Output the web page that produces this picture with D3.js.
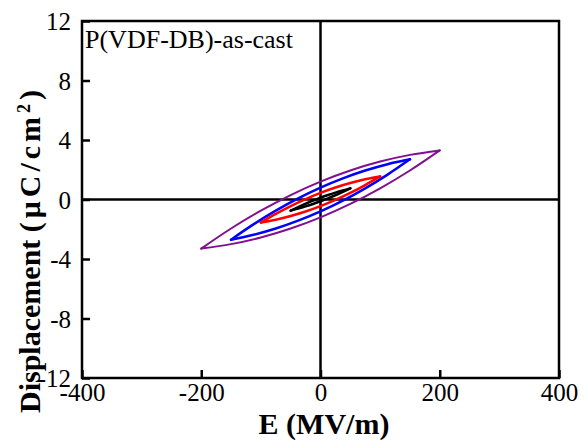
<!DOCTYPE html>
<html>
<head>
<meta charset="utf-8">
<script src="https://cdn.jsdelivr.net/npm/d3@7/dist/d3.min.js"></script>
<style>
  html, body { margin: 0; padding: 0; background: #fff; }
  svg { display: block; }
  text { font-family: "Liberation Serif", "Times New Roman", serif; fill: #000; }
</style>
</head>
<body>
<svg id="chart" width="585" height="445"></svg>
<script>
// Axis ticks
const xTicks = [-400, -200, 0, 200, 400];
const yTicks = [-12, -8, -4, 0, 4, 8, 12];

// D-E loops: field values (MV/m) and displacement (µC/cm²)
// on the descending (upper) and ascending (lower) branches.
const fieldPurple = [200, 150, 100, 50, 0, -50, -100, -150, -200];
const purpleUpper = [3.3, 3.0, 2.55, 1.95, 1.2, 0.3, -0.75, -1.95, -3.3];
const purpleLower = [3.3, 1.95, 0.75, -0.3, -1.2, -1.95, -2.55, -3.0, -3.3];

const fieldBlue = [150, 112.5, 75, 37.5, 0, -37.5, -75, -112.5, -150];
const blueUpper = [2.7, 2.375, 1.95, 1.425, 0.8, 0.075, -0.75, -1.675, -2.7];
const blueLower = [2.7, 1.675, 0.75, -0.075, -0.8, -1.425, -1.95, -2.375, -2.7];

const fieldRed = [100, 75, 50, 25, 0, -25, -50, -75, -100];
const redUpper = [1.55, 1.36, 1.11, 0.81, 0.45, 0.03, -0.44, -0.97, -1.55];
const redLower = [1.55, 0.97, 0.44, -0.03, -0.45, -0.81, -1.11, -1.36, -1.55];

const fieldBlack = [50, 37.5, 25, 12.5, 0, -12.5, -25, -37.5, -50];
const blackUpper = [0.75, 0.615, 0.465, 0.3, 0.12, -0.075, -0.285, -0.51, -0.75];
const blackLower = [0.75, 0.51, 0.285, 0.075, -0.12, -0.3, -0.465, -0.615, -0.75];

const loops = [
  { color: "#80108f", width: 2, field: fieldPurple, upper: purpleUpper, lower: purpleLower },
  { color: "#0000ff", width: 2.5, field: fieldBlue, upper: blueUpper, lower: blueLower },
  { color: "#ff0000", width: 2.5, field: fieldRed, upper: redUpper, lower: redLower },
  { color: "#000000", width: 2.5, field: fieldBlack, upper: blackUpper, lower: blackLower }
];

const plot = { left: 82, right: 559, top: 21, bottom: 378 };
const svg = d3.select("#chart");

const x = d3.scaleLinear().domain([-400, 400]).range([plot.left, plot.right]);
const y = d3.scaleLinear().domain([-12, 12]).range([plot.bottom, plot.top]);
const plain = d => String(d);

// Bottom axis: inward ticks, labels below
const xAxis = d3.axisBottom(x).tickValues(xTicks).tickSize(-8).tickPadding(5).tickFormat(plain);
const gx = svg.append("g").attr("transform", `translate(0,${plot.bottom})`).call(xAxis);
gx.select(".domain").remove();
gx.selectAll("line").attr("stroke", "#000").attr("stroke-width", 2.5);
gx.selectAll("text").attr("font-size", 25).attr("dy", "0.72em")
  .style("font-family", "Liberation Serif, serif");

// Left axis: inward ticks, labels left
const yAxis = d3.axisLeft(y).tickValues(yTicks).tickSize(-8).tickPadding(11).tickFormat(plain);
const gy = svg.append("g").attr("transform", `translate(${plot.left},0)`).call(yAxis);
gy.select(".domain").remove();
gy.selectAll("line").attr("stroke", "#000").attr("stroke-width", 2.5);
gy.selectAll("text").attr("font-size", 25).attr("dy", "0.34em")
  .style("font-family", "Liberation Serif, serif");

// Zero lines
svg.append("line")
  .attr("x1", x(0)).attr("x2", x(0)).attr("y1", plot.top).attr("y2", plot.bottom)
  .attr("stroke", "#000").attr("stroke-width", 2.5);
svg.append("line")
  .attr("x1", plot.left).attr("x2", plot.right).attr("y1", y(0)).attr("y2", y(0))
  .attr("stroke", "#000").attr("stroke-width", 2.5);

// Loops
const line = d3.line().x(d => x(d[0])).y(d => y(d[1])).curve(d3.curveCatmullRom.alpha(0.5));
const loopG = svg.append("g");
loops.forEach(l => {
  const up = l.field.map((e, i) => [e, l.upper[i]]);
  const low = l.field.map((e, i) => [e, l.lower[i]]).reverse();
  [up, low].forEach(branch => {
    loopG.append("path")
      .attr("d", line(branch))
      .attr("fill", "none")
      .attr("stroke", l.color)
      .attr("stroke-width", l.width)
      .attr("stroke-linecap", "round");
  });
});

// Frame
svg.append("rect")
  .attr("x", plot.left).attr("y", plot.top)
  .attr("width", plot.right - plot.left).attr("height", plot.bottom - plot.top)
  .attr("fill", "none").attr("stroke", "#000").attr("stroke-width", 2.5);

// Sample label
svg.append("text")
  .attr("x", 85).attr("y", 48)
  .attr("font-size", 26)
  .text("P(VDF-DB)-as-cast");

// Axis titles
svg.append("text")
  .attr("x", 324).attr("y", 434)
  .attr("text-anchor", "middle")
  .attr("font-size", 30).attr("font-weight", "bold")
  .text("E (MV/m)");

const yTitle = svg.append("text")
  .attr("transform", "translate(40,413) rotate(-90)")
  .attr("text-anchor", "start")
  .attr("font-size", 30).attr("font-weight", "bold");
yTitle.append("tspan").text("Displacement ");
const unit = yTitle.append("tspan").attr("letter-spacing", 4);
unit.append("tspan").text("(μC/cm");
unit.append("tspan").attr("baseline-shift", "super").attr("font-size", 18).text("2");
unit.append("tspan").text(")");
</script>
</body>
</html>
